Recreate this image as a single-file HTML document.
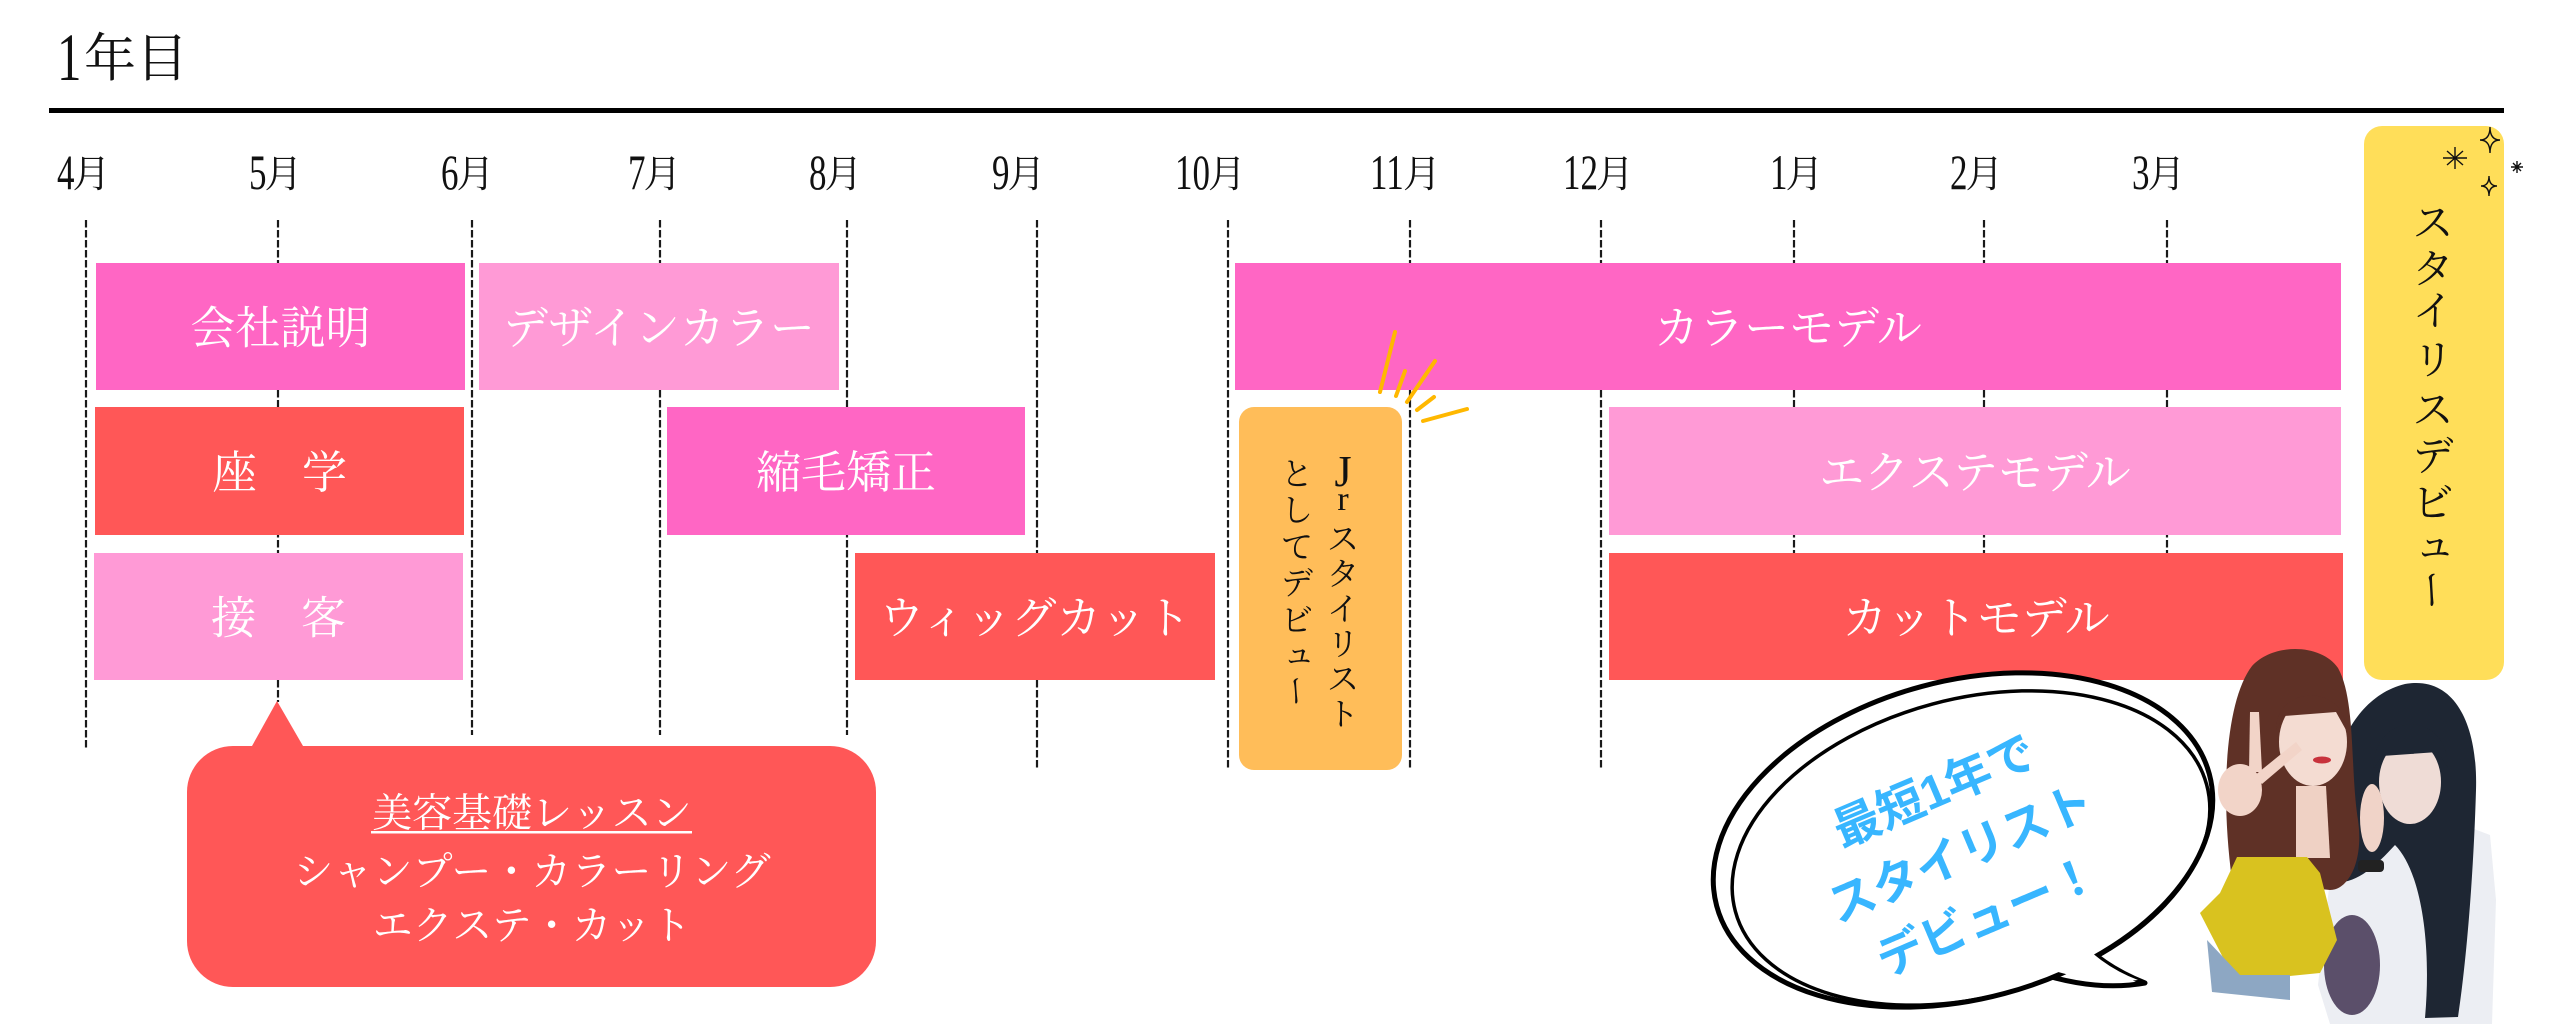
<!DOCTYPE html>
<html lang="ja">
<head>
<meta charset="utf-8">
<style>
  html,body{margin:0;padding:0;background:#fff;}
  body{width:2560px;height:1024px;overflow:hidden;}
  svg{display:block;}
  .s{font-family:"Liberation Serif","Noto Serif CJK SC","Noto Serif CJK JP",serif;}
  .g{font-family:"Liberation Sans","Noto Sans CJK JP",sans-serif;}
</style>
</head>
<body>
<svg width="2560" height="1024" viewBox="0 0 2560 1024" xmlns="http://www.w3.org/2000/svg">
  <rect width="2560" height="1024" fill="#ffffff"/>

  <!-- Title -->
  <g class="s" fill="#111">
    <text transform="translate(57 80) scale(0.72 1)" font-size="68">1</text>
    <text x="84" y="76.5" font-size="52">年目</text>
  </g>
  <rect x="49" y="108" width="2455" height="5" fill="#000"/>

  <!-- Month labels -->
  <g class="s" fill="#111">
    <text transform="translate(57 189) scale(0.7 1)" font-size="50">4</text>
    <text x="91.5" y="187" font-size="38" text-anchor="middle">月</text>
    <text transform="translate(249 189) scale(0.7 1)" font-size="50">5</text>
    <text x="283.5" y="187" font-size="38" text-anchor="middle">月</text>
    <text transform="translate(441 189) scale(0.7 1)" font-size="50">6</text>
    <text x="475.5" y="187" font-size="38" text-anchor="middle">月</text>
    <text transform="translate(628 189) scale(0.7 1)" font-size="50">7</text>
    <text x="662.5" y="187" font-size="38" text-anchor="middle">月</text>
    <text transform="translate(809 189) scale(0.7 1)" font-size="50">8</text>
    <text x="843.5" y="187" font-size="38" text-anchor="middle">月</text>
    <text transform="translate(992 189) scale(0.7 1)" font-size="50">9</text>
    <text x="1026.5" y="187" font-size="38" text-anchor="middle">月</text>
    <text transform="translate(1175 189) scale(0.7 1)" font-size="50">10</text>
    <text x="1227" y="187" font-size="38" text-anchor="middle">月</text>
    <text transform="translate(1370 189) scale(0.7 1)" font-size="50">11</text>
    <text x="1422" y="187" font-size="38" text-anchor="middle">月</text>
    <text transform="translate(1563 189) scale(0.7 1)" font-size="50">12</text>
    <text x="1615" y="187" font-size="38" text-anchor="middle">月</text>
    <text transform="translate(1770 189) scale(0.7 1)" font-size="50">1</text>
    <text x="1804.5" y="187" font-size="38" text-anchor="middle">月</text>
    <text transform="translate(1950 189) scale(0.7 1)" font-size="50">2</text>
    <text x="1984.5" y="187" font-size="38" text-anchor="middle">月</text>
    <text transform="translate(2132 189) scale(0.7 1)" font-size="50">3</text>
    <text x="2166.5" y="187" font-size="38" text-anchor="middle">月</text>
  </g>

  <!-- Dashed month lines -->
  <g stroke="#1a1a1a" stroke-width="2.2" stroke-dasharray="7.5 2.5" fill="none">
    <line x1="86" y1="220" x2="86" y2="750"/>
    <line x1="278" y1="220" x2="278" y2="702"/>
    <line x1="472" y1="220" x2="472" y2="735"/>
    <line x1="660" y1="220" x2="660" y2="735"/>
    <line x1="847" y1="220" x2="847" y2="735"/>
    <line x1="1037" y1="220" x2="1037" y2="770"/>
    <line x1="1228" y1="220" x2="1228" y2="770"/>
    <line x1="1410" y1="220" x2="1410" y2="770"/>
    <line x1="1601" y1="220" x2="1601" y2="770"/>
    <line x1="1794" y1="220" x2="1794" y2="680"/>
    <line x1="1984" y1="220" x2="1984" y2="680"/>
    <line x1="2167" y1="220" x2="2167" y2="680"/>
  </g>

  <!-- Row boxes -->
  <rect x="96" y="263" width="369" height="127" fill="#FF66C4"/>
  <rect x="479" y="263" width="360" height="127" fill="#FF9AD6"/>
  <rect x="1235" y="263" width="1106" height="127" fill="#FF66C4"/>

  <rect x="95" y="407" width="369" height="128" fill="#FF5757"/>
  <rect x="667" y="407" width="358" height="128" fill="#FF66C4"/>
  <rect x="1609" y="407" width="732" height="128" fill="#FF9AD6"/>

  <rect x="94" y="553" width="369" height="127" fill="#FF9AD6"/>
  <rect x="855" y="553" width="360" height="127" fill="#FF5757"/>
  <rect x="1609" y="553" width="734" height="127" fill="#FF5757"/>

  <g class="s" fill="#ffffff" font-size="45" text-anchor="middle">
    <text x="280.5" y="343.5">会社説明</text>
    <text x="659" y="343.5">デザインカラー</text>
    <text x="1788" y="343.5">カラーモデル</text>
    <text x="279.5" y="488">座　学</text>
    <text x="846" y="488">縮毛矯正</text>
    <text x="1975" y="488">エクステモデル</text>
    <text x="278.5" y="633.5">接　客</text>
    <text x="1035" y="633.5">ウィッグカット</text>
    <text x="1976" y="633.5">カットモデル</text>
  </g>

  <!-- Orange Jr box -->
  <rect x="1239" y="407" width="163" height="363" rx="15" ry="15" fill="#FFBD59"/>
  <g class="s" fill="#111" text-anchor="middle">
    <text x="1343" y="486" font-size="44">J</text>
    <text x="1343" y="510" font-size="34">r</text>
    <text x="1343" y="550" font-size="32">ス</text>
    <text x="1343" y="585" font-size="32">タ</text>
    <text x="1343" y="620" font-size="32">イ</text>
    <text x="1343" y="655" font-size="32">リ</text>
    <text x="1343" y="690" font-size="32">ス</text>
    <text x="1343" y="725" font-size="32">ト</text>

    <text x="1297" y="485" font-size="32">と</text>
    <text x="1297" y="521" font-size="32">し</text>
    <text x="1297" y="558" font-size="32">て</text>
    <text x="1297" y="594" font-size="32">デ</text>
    <text x="1297" y="631" font-size="32">ビ</text>
    <text x="1299" y="664" font-size="32">ュ</text>
    <text x="1297" y="703" font-size="32" transform="rotate(90 1297 691)">ー</text>
  </g>

  <!-- Gold accent lines -->
  <g stroke="#FFB800" stroke-width="4" stroke-linecap="round" fill="none">
    <line x1="1395" y1="332" x2="1380" y2="392"/>
    <line x1="1405" y1="371" x2="1396" y2="396"/>
    <line x1="1435" y1="361" x2="1407" y2="402"/>
    <line x1="1434" y1="397" x2="1417" y2="410"/>
    <line x1="1467" y1="409" x2="1423" y2="421"/>
  </g>

  <!-- Yellow stylist box -->
  <rect x="2364" y="126" width="140" height="554" rx="18" ry="18" fill="#FFDE59"/>
  <g class="s" fill="#111" text-anchor="middle" font-size="41">
    <text x="2433" y="237">ス</text>
    <text x="2433" y="283">タ</text>
    <text x="2433" y="325">イ</text>
    <text x="2433" y="374">リ</text>
    <text x="2433" y="424">ス</text>
    <text x="2433" y="470">デ</text>
    <text x="2433" y="517">ビ</text>
    <text x="2435" y="558">ュ</text>
    <text x="2433" y="605.6" transform="rotate(90 2433 590)">ー</text>
  </g>
  <!-- sparkles -->
  <g stroke="#111" stroke-width="1.4" fill="none">
    <path d="M2490,127 Q2490,140 2500,140 Q2490,140 2490,153 Q2490,140 2480,140 Q2490,140 2490,127 Z"/>
    <path d="M2489,176 Q2489,186 2497,186 Q2489,186 2489,196 Q2489,186 2481,186 Q2489,186 2489,176 Z"/>
    <path d="M2443,158 L2467,158 M2455,147 L2455,169 M2447,151 L2463,165 M2463,151 L2447,165"/>
    <path d="M2511,167 L2523,167 M2517,161 L2517,173 M2513,163 L2521,171 M2521,163 L2513,171"/>
  </g>

  <!-- Red callout -->
  <path d="M252,746 L277,701 L303,746 Z" fill="#FF5757"/>
  <rect x="187" y="746" width="689" height="241" rx="46" ry="46" fill="#FF5757"/>
  <g class="s" fill="#ffffff" font-size="40" text-anchor="middle">
    <text x="532" y="826.5">美容基礎レッスン</text>
    <text x="532" y="885">シャンプー・カラーリング</text>
    <text x="532" y="939">エクステ・カット</text>
  </g>
  <rect x="371" y="831" width="321" height="2.5" fill="#ffffff"/>

  <!-- Speech bubble -->
  <path d="M2075,935 Q2100,965 2145,983 Q2095,992 2035,972 Z" fill="#fff" stroke="#000" stroke-width="5" stroke-linejoin="round"/>
  <ellipse cx="1963" cy="840" rx="255" ry="159" transform="rotate(-15 1963 840)" fill="#fff" stroke="#000" stroke-width="5"/>
  <ellipse cx="1971" cy="848" rx="244" ry="149" transform="rotate(-15 1971 848)" fill="none" stroke="#000" stroke-width="3.5"/>
  <path d="M2070,930 Q2098,965 2138,980 Q2095,986 2040,966 Z" fill="#fff"/>
  <g class="g" transform="rotate(-23 1960 852)" fill="#38B6FF" font-size="47" font-weight="bold" text-anchor="middle">
    <text x="1960" y="802">最短1年で</text>
    <text x="1960" y="870">スタイリスト</text>
    <text x="1960" y="938">デビュー！</text>
  </g>

  <!-- Photo approximation -->
  <g>
    <!-- right girl shirt -->
    <path d="M2335,835 L2445,818 L2490,835 L2496,900 L2492,1024 L2330,1024 L2318,985 Z" fill="#eceef3"/>
    <ellipse cx="2352" cy="965" rx="28" ry="50" fill="#5b4f6a"/>
    <!-- right girl hair -->
    <path d="M2322,880 C2318,790 2340,700 2405,684 C2455,675 2478,725 2476,790 C2474,860 2468,950 2458,1017 L2425,1018 C2432,940 2420,870 2395,845 C2372,870 2350,890 2322,880 Z" fill="#1e2633"/>
    <ellipse cx="2410" cy="782" rx="31" ry="42" fill="#efdcd6"/>
    <path d="M2374,768 C2372,712 2448,708 2448,768 L2438,752 L2382,756 Z" fill="#1e2633"/>
    <ellipse cx="2372" cy="818" rx="12" ry="34" fill="#f0d3c8"/>
    <rect x="2358" y="860" width="26" height="12" rx="4" fill="#222"/>
    <!-- left girl hair -->
    <path d="M2232,880 C2220,790 2226,700 2252,666 C2274,642 2322,644 2338,668 C2356,700 2350,770 2358,820 C2364,862 2348,890 2330,890 Z" fill="#5f3126"/>
    <ellipse cx="2313" cy="742" rx="34" ry="44" fill="#f4dcd2"/>
    <path d="M2276,730 C2276,684 2346,684 2346,730 L2336,712 L2284,716 Z" fill="#5f3126"/>
    <ellipse cx="2322" cy="760" rx="9" ry="3.5" fill="#c8323c"/>
    <path d="M2296,786 L2326,786 L2330,858 L2296,858 Z" fill="#efd1c4"/>
    <!-- peace hand -->
    <ellipse cx="2240" cy="790" rx="22" ry="26" fill="#f2d4c8"/>
    <path d="M2249,772 L2250,712 L2259,712 L2262,772 Z" fill="#f2d4c8"/>
    <path d="M2254,776 L2296,742 L2302,750 L2262,784 Z" fill="#f2d4c8"/>
    <!-- yellow top -->
    <path d="M2237,857 L2307,857 L2320,873 L2337,940 L2320,973 L2280,977 L2233,977 L2200,913 L2220,893 Z" fill="#d9c21f"/>
    <!-- jeans -->
    <path d="M2207,940 L2240,975 L2290,975 L2290,1000 L2212,992 Z" fill="#8da7c3"/>
  </g>
</svg>
</body>
</html>
